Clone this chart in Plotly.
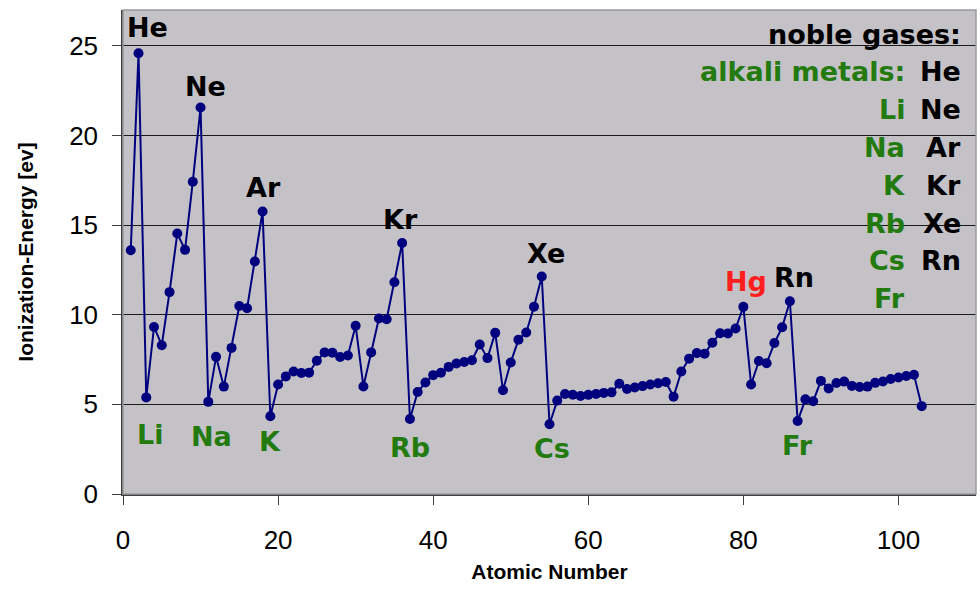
import plotly.graph_objects as go

atomic_number = list(range(1, 104))
ionization_ev = [
    13.60, 24.59, 5.39, 9.32, 8.30, 11.26, 14.53, 13.62, 17.42, 21.56,
    5.14, 7.65, 5.99, 8.15, 10.49, 10.36, 12.97, 15.76, 4.34, 6.11,
    6.56, 6.83, 6.75, 6.77, 7.43, 7.90, 7.88, 7.64, 7.73, 9.39,
    6.00, 7.90, 9.79, 9.75, 11.81, 14.00, 4.18, 5.69, 6.22, 6.63,
    6.76, 7.09, 7.28, 7.36, 7.46, 8.34, 7.58, 8.99, 5.79, 7.34,
    8.61, 9.01, 10.45, 12.13, 3.89, 5.21, 5.58, 5.54, 5.47, 5.53,
    5.58, 5.64, 5.67, 6.15, 5.86, 5.94, 6.02, 6.11, 6.18, 6.25,
    5.43, 6.83, 7.55, 7.86, 7.83, 8.44, 8.97, 8.96, 9.23, 10.44,
    6.11, 7.42, 7.29, 8.42, 9.30, 10.75, 4.07, 5.28, 5.17, 6.31,
    5.89, 6.19, 6.27, 6.03, 5.97, 5.99, 6.20, 6.28, 6.42, 6.50,
    6.58, 6.65, 4.90,
]

noble_labels = ["He", "Ne", "Ar", "Kr", "Xe", "Rn"]
noble_z = [2, 10, 18, 36, 54, 86]
alkali_labels = ["Li", "Na", "K", "Rb", "Cs", "Fr"]
alkali_z = [3, 11, 19, 37, 55, 87]
special_labels = ["Hg"]
special_z = [80]

legend_title_noble = "noble gases:"
legend_title_alkali = "alkali metals:"

x_ticks = [0, 20, 40, 60, 80, 100]
y_ticks = [0, 5, 10, 15, 20, 25]

FONT = "Liberation Sans, Arial, sans-serif"
LABEL_FONT = "DejaVu Sans, Liberation Sans, sans-serif"
GREEN = "#237a0e"
RED = "#ff1f1f"
NAVY = "#00007f"

fig = go.Figure()
fig.add_trace(go.Scatter(
    x=atomic_number, y=ionization_ev, mode="lines+markers",
    line=dict(color=NAVY, width=2),
    marker=dict(color=NAVY, size=10),
    hoverinfo="x+y", showlegend=False,
))

val = dict(zip(atomic_number, ionization_ev))

# label offsets (pixels) relative to the element's point
noble_shift = {"He": (9, 8), "Ne": (5, 4), "Ar": (1, 6), "Kr": (-2, 6), "Xe": (4, 6), "Rn": (4, 6)}
alkali_shift = {"Li": (4, -20), "Na": (3, -17), "K": (0, -8), "Rb": (0, -11), "Cs": (2, -7), "Fr": (0, -7)}

ann = []
for lab, z in zip(noble_labels, noble_z):
    dx, dy = noble_shift[lab]
    ann.append(dict(x=z, y=val[z], text="<b>%s</b>" % lab, showarrow=False,
                    xanchor="center", yanchor="bottom", xshift=dx, yshift=dy,
                    font=dict(family=LABEL_FONT, size=27, color="black")))
for lab, z in zip(special_labels, special_z):
    ann.append(dict(x=z, y=val[z], text="<b>%s</b>" % lab, showarrow=False,
                    xanchor="center", yanchor="bottom", xshift=3, yshift=8,
                    font=dict(family=LABEL_FONT, size=27, color=RED)))
for lab, z in zip(alkali_labels, alkali_z):
    dx, dy = alkali_shift[lab]
    ann.append(dict(x=z, y=val[z], text="<b>%s</b>" % lab, showarrow=False,
                    xanchor="center", yanchor="top", xshift=dx, yshift=dy,
                    font=dict(family=LABEL_FONT, size=27, color=GREEN)))

# legend block at right
line_h = 37.8
top_y = 34
green_x = 907
black_x = 963
W, H = 980, 590
ML, MR, MT, MB = 123, 4, 10, 96
pw, ph = W - ML - MR, H - MT - MB

def px_to_paper(px, py):
    return (px - ML) / pw, 1 - (py - MT) / ph

rows = [(legend_title_noble, "black", black_x, 0)]
rows.append((legend_title_alkali, GREEN, green_x, 1))
for i, lab in enumerate(noble_labels):
    rows.append((lab, "black", black_x, i + 1))
for i, lab in enumerate(alkali_labels):
    rows.append((lab, GREEN, green_x, i + 2))
for text, col, xr, row in rows:
    xp, yp = px_to_paper(xr, top_y + row * line_h)
    ann.append(dict(x=xp, y=yp, xref="paper", yref="paper", text="<b>%s</b>" % text,
                    showarrow=False, xanchor="right", yanchor="middle",
                    font=dict(family=LABEL_FONT, size=27, color=col)))

fig.update_layout(
    width=W, height=H,
    margin=dict(l=ML, r=MR, t=MT, b=MB, autoexpand=False),
    paper_bgcolor="white", plot_bgcolor="#c4c2c6",
    font=dict(family=FONT, color="black"),
    annotations=ann,
    xaxis=dict(range=[0, 110], tickvals=x_ticks, ticks="outside", ticklen=9,
               tickcolor="#404040", showgrid=False, zeroline=False, automargin=False,
               showline=True, linecolor="#404040", linewidth=2,
               tickfont=dict(size=26, family=FONT), ticklabelstandoff=13,
               title=dict(text="<b>Atomic Number</b>", font=dict(size=21, family=FONT), standoff=10)),
    yaxis=dict(range=[0, 27], tickvals=y_ticks, ticks="outside", ticklen=9,
               tickcolor="#404040", showgrid=True, gridcolor="#1a1a1a", gridwidth=1,
               zeroline=False, showline=True, linecolor="#404040", linewidth=1.5, automargin=False,
               tickfont=dict(size=26, family=FONT), ticklabelstandoff=9,
               title=dict(text="<b>Ionization-Energy [ev]</b>", font=dict(size=21, family=FONT), standoff=30)),
    shapes=[dict(type="rect", xref="paper", yref="paper", x0=0, y0=0, x1=1, y1=1,
                 line=dict(color="#9a9a9a", width=1.5), layer="above")],
)

fig.write_html("out.html", config={"displayModeBar": False},
               post_script="document.body.style.margin='0px';document.body.style.padding='0px';")
